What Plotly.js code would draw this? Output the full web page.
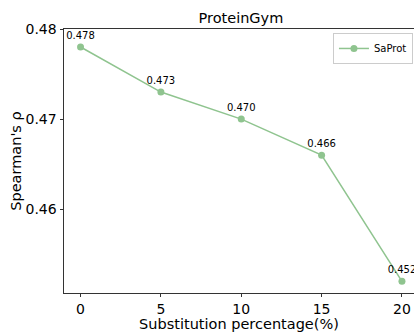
<!DOCTYPE html>
<html>
<head>
<meta charset="utf-8">
<script src="https://cdn.plot.ly/plotly-3.0.1.min.js"></script>
<style>html,body{margin:0;padding:0;background:#fff;overflow:hidden;}#chart{width:414px;height:332px;}</style>
</head>
<body>
<div id="chart"></div>
<script>
const substitution = [0, 5, 10, 15, 20];
const saprot = [0.478, 0.473, 0.470, 0.466, 0.452];
const xTicks = [0, 5, 10, 15, 20];
const yTicks = [0.46, 0.47, 0.48];
const yTickLabels = ['0.46', '0.47', '0.48'];

const green = '#8fc48f';
const font = 'DejaVu Sans, sans-serif';

const trace = {
  x: substitution,
  y: saprot,
  type: 'scatter',
  mode: 'lines+markers+text',
  name: 'SaProt',
  line: {color: green, width: 1.5},
  marker: {color: green, size: 7},
  text: saprot.map(v => v.toFixed(3)),
  textposition: 'top center',
  textfont: {family: font, size: 10, color: '#000'},
  cliponaxis: false
};

const layout = {
  width: 414,
  height: 332,
  margin: {l: 64, r: 0, t: 29, b: 39, autoexpand: false},
  paper_bgcolor: '#fff',
  plot_bgcolor: '#fff',
  font: {family: font, color: '#000'},
  title: {text: 'ProteinGym', font: {family: font, size: 14.5}, x: 0.582, xanchor: 'center', y: 0.946, yanchor: 'middle', yref: 'container'},
  xaxis: {
    range: [-1.03, 20.75],
    tickvals: xTicks,
    ticks: 'outside', ticklen: 3, tickcolor: '#333',
    showline: true, linecolor: '#333', linewidth: 1, mirror: true,
    showgrid: false, zeroline: false, automargin: false,
    tickfont: {family: font, size: 14},
    title: {text: 'Substitution percentage(%)', font: {family: font, size: 14.5}, standoff: 4}
  },
  yaxis: {
    range: [0.4507, 0.48],
    tickvals: yTicks,
    ticktext: yTickLabels,
    ticks: 'outside', ticklen: 3.5, tickcolor: '#333',
    showline: true, linecolor: '#333', linewidth: 1,
    showgrid: false, zeroline: false, automargin: false,
    tickfont: {family: font, size: 14},
    title: {text: "Spearman's ρ", font: {family: font, size: 14.5}, standoff: 0}
  },
  showlegend: true,
  legend: {x: 0.997, y: 0.985, xanchor: 'right', yanchor: 'top', bgcolor: '#fff', bordercolor: '#ccc', borderwidth: 1, font: {family: font, size: 10}, itemwidth: 30}
};

Plotly.newPlot('chart', [trace], layout, {displayModeBar: false, staticPlot: true});
</script>
</body>
</html>
